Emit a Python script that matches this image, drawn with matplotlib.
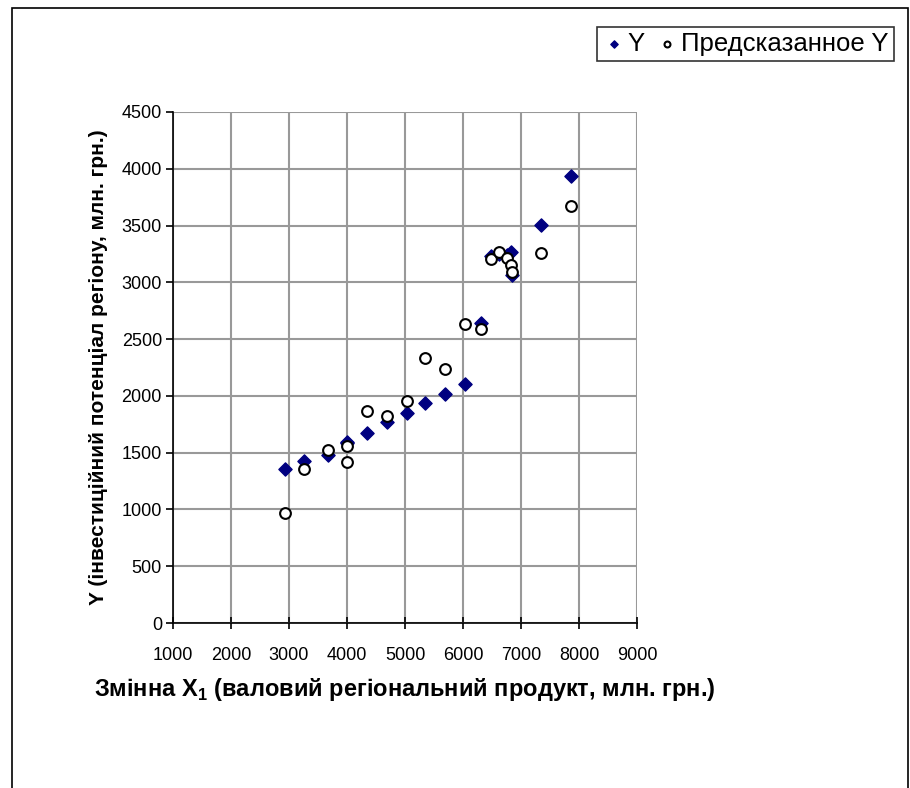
import matplotlib
matplotlib.use("Agg")
import matplotlib.pyplot as plt
from matplotlib.patches import Rectangle

plt.rcParams['font.family'] = ['Liberation Sans', 'DejaVu Sans']
plt.rcParams['mathtext.fontset'] = 'custom'
plt.rcParams['mathtext.rm'] = 'Liberation Sans'
plt.rcParams['mathtext.bf'] = 'Liberation Sans:bold'

# X1 values (shared by both series)
x1 = [2930, 3265, 3665, 4000, 4000, 4345, 4690, 5035, 5345, 5690,
      6040, 6310, 6480, 6620, 6760, 6820, 6850, 7345, 7860]
# observed Y
y_obs = [1355, 1425, 1480, 1590, 1585, 1670, 1768, 1850, 1938, 2020,
         2108, 2638, 3235, 3250, 3245, 3270, 3065, 3503, 3937]
# predicted Y
y_pred = [970, 1355, 1520, 1558, 1420, 1868, 1820, 1955, 2338, 2236,
          2636, 2588, 3204, 3268, 3218, 3150, 3087, 3254, 3670]

xticks = list(range(1000, 9001, 1000))
yticks = list(range(0, 4501, 500))

fig = plt.figure(figsize=(9.1, 7.88), dpi=100)
ax = fig.add_axes([173/910, 1-623/788, 464/910, 511/788])

ax.scatter(x1, y_obs, marker='D', s=45, color='#000080', zorder=3, label='Y')
ax.scatter(x1, y_pred, marker='o', s=60, facecolor='white', edgecolor='black',
           linewidth=1.5, zorder=4, label='Предсказанное Y')

ax.set_xlim(1000, 9000)
ax.set_ylim(0, 4500)
ax.set_xticks(xticks)
ax.set_yticks(yticks)
ax.grid(True, color='#999999', linewidth=1.5)
ax.set_axisbelow(True)
for s in ['top', 'right']:
    ax.spines[s].set_visible(False)
for s in ['left', 'bottom']:
    ax.spines[s].set_color('black')
    ax.spines[s].set_linewidth(1.2)
ax.tick_params(axis='x', direction='inout', length=8, width=1.2, labelsize=13, pad=13)
ax.tick_params(axis='y', direction='out', length=5, width=1.2, labelsize=13, pad=3)

ax.set_xlabel(r'Змінна X$_{\mathbf{1}}$ (валовий регіональний продукт, млн. грн.)',
              fontsize=17, fontweight='bold', labelpad=9)
ax.set_ylabel('Y (інвестиційний потенціал регіону, млн. грн.)',
              fontsize=15, fontweight='bold', labelpad=10)

leg = fig.legend(loc='upper left', bbox_to_anchor=(597/910, 1-27/788), ncol=2,
                 fontsize=18.5, frameon=True, fancybox=False, handletextpad=0.1,
                 columnspacing=0.4, borderpad=0.2, markerscale=0.55,
                 handlelength=0.9, borderaxespad=0)
leg.get_frame().set_edgecolor('black')
leg.get_frame().set_linewidth(1.2)

fig.patches.append(Rectangle((12/910, -0.05), 896/910, 1.05 - 8/788,
                             transform=fig.transFigure, fill=False,
                             edgecolor='black', linewidth=1.2))

fig.savefig('out.png', dpi=100)
